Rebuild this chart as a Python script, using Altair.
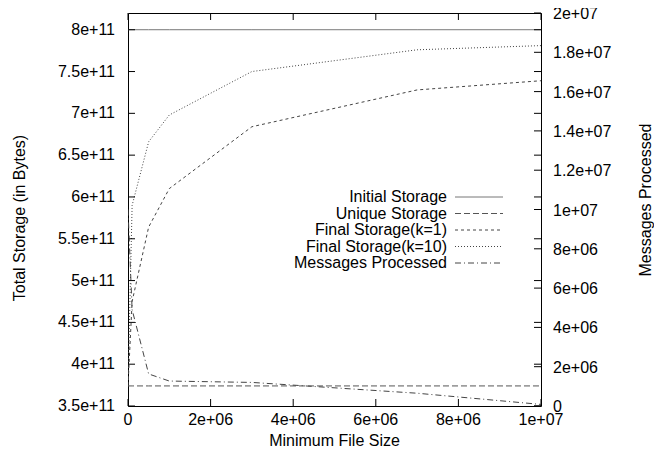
import altair as alt
import pandas as pd

SERIES = ["Initial Storage", "Unique Storage", "Final Storage(k=1)",
          "Final Storage(k=10)", "Messages Processed"]
SIZES = [0, 1e5, 5e5, 1e6, 3e6, 7e6, 1e7]
INITIAL = [8e11, 8e11, 8e11, 8e11, 8e11, 8e11, 8e11]
UNIQUE = [3.74e11, 3.74e11, 3.74e11, 3.74e11, 3.74e11, 3.74e11, 3.74e11]
K1 = [3.74e11, 4.75e11, 5.64e11, 6.10e11, 6.84e11, 7.28e11, 7.39e11]
K10 = [3.74e11, 5.90e11, 6.66e11, 6.98e11, 7.50e11, 7.76e11, 7.81e11]
MESSAGES = [1.0e7, 4.9e6, 1.63e6, 1.27e6, 1.20e6, 6.5e5, 8e4]

X_TICKS = [0, 2e6, 4e6, 6e6, 8e6, 1e7]
X_LABELS = ["0", "2e+06", "4e+06", "6e+06", "8e+06", "1e+07"]
LEFT_TICKS = [3.5e11, 4e11, 4.5e11, 5e11, 5.5e11, 6e11, 6.5e11, 7e11, 7.5e11, 8e11]
LEFT_LABELS = ["3.5e+11", "4e+11", "4.5e+11", "5e+11", "5.5e+11", "6e+11",
               "6.5e+11", "7e+11", "7.5e+11", "8e+11"]
RIGHT_TICKS = [0, 2e6, 4e6, 6e6, 8e6, 1e7, 1.2e7, 1.4e7, 1.6e7, 1.8e7, 2e7]
RIGHT_LABELS = ["0", "2e+06", "4e+06", "6e+06", "8e+06", "1e+07", "1.2e+07",
                "1.4e+07", "1.6e+07", "1.8e+07", "2e+07"]
X_TITLE = "Minimum File Size"
LEFT_TITLE = "Total Storage (in Bytes)"
RIGHT_TITLE = "Messages Processed"

DASHES = [[1, 0], [6, 3], [3, 3], [1, 2], [6, 3, 1, 3]]
COLORS = ["#777777", "#555555", "#444444", "#444444", "#444444"]

W, H = 413, 393
TL = 7
FONT = "Liberation Sans"
FS = 16

rows = []
for name, vals in zip(SERIES[:4], [INITIAL, UNIQUE, K1, K10]):
    for s, v in zip(SIZES, vals):
        rows.append({"size": s, "value": v, "series": name})
left_df = pd.DataFrame(rows)
right_df = pd.DataFrame({"size": SIZES, "value": MESSAGES, "series": SERIES[4]})

xscale = alt.Scale(domain=[0, 1e7], nice=False, zero=False)
lscale = alt.Scale(domain=[3.5e11, 8.2e11], nice=False, zero=False)
rscale = alt.Scale(domain=[0, 2e7], nice=False, zero=False)
dash = alt.StrokeDash("series:N", scale=alt.Scale(domain=SERIES, range=DASHES), legend=None)
col = alt.Color("series:N", scale=alt.Scale(domain=SERIES, range=COLORS), legend=None)


def txt(**kw):
    base = dict(font=FONT, fontSize=FS, color="black")
    base.update(kw)
    return base


left_lines = alt.Chart(left_df).mark_line(strokeWidth=1, clip=True).encode(
    x=alt.X("size:Q", scale=xscale, axis=None),
    y=alt.Y("value:Q", scale=lscale, axis=None),
    strokeDash=dash, color=col,
)

xt = pd.DataFrame({"v": X_TICKS, "label": X_LABELS})
lt = pd.DataFrame({"v": LEFT_TICKS, "label": LEFT_LABELS})
rt = pd.DataFrame({"v": RIGHT_TICKS, "label": RIGHT_LABELS})

bottom_ticks = alt.Chart(xt).mark_rule(color="black").encode(
    x=alt.X("v:Q", scale=xscale, axis=None), y=alt.value(H), y2=alt.value(H - TL))
top_ticks = alt.Chart(xt).mark_rule(color="black").encode(
    x=alt.X("v:Q", scale=xscale, axis=None), y=alt.value(0), y2=alt.value(TL))
x_labels = alt.Chart(xt).mark_text(**txt(baseline="middle", align="center")).encode(
    x=alt.X("v:Q", scale=xscale, axis=None), y=alt.value(H + 14), text="label:N")
left_ticks = alt.Chart(lt).mark_rule(color="black").encode(
    y=alt.Y("v:Q", scale=lscale, axis=None), x=alt.value(0), x2=alt.value(TL))
left_mirror = alt.Chart(lt).mark_rule(color="black").encode(
    y=alt.Y("v:Q", scale=lscale, axis=None), x=alt.value(W - TL), x2=alt.value(W))
left_labels = alt.Chart(lt).mark_text(**txt(baseline="middle", align="right")).encode(
    y=alt.Y("v:Q", scale=lscale, axis=None), x=alt.value(-13), text="label:N")

x_title = alt.Chart(pd.DataFrame({"t": [X_TITLE]})).mark_text(
    **txt(baseline="middle", align="center")).encode(
    x=alt.value(W / 2), y=alt.value(H + 35), text="t:N")
l_title = alt.Chart(pd.DataFrame({"t": [LEFT_TITLE]})).mark_text(
    **txt(baseline="middle", align="center", angle=270)).encode(
    x=alt.value(-108), y=alt.value(205), text="t:N")
r_title = alt.Chart(pd.DataFrame({"t": [RIGHT_TITLE]})).mark_text(
    **txt(baseline="middle", align="center", angle=270)).encode(
    x=alt.value(W + 105), y=alt.value(187), text="t:N")

left_group = alt.layer(left_lines, bottom_ticks, top_ticks, x_labels,
                       left_ticks, left_mirror, left_labels, x_title, l_title, r_title)

right_line = alt.Chart(right_df).mark_line(strokeWidth=1, clip=True).encode(
    x=alt.X("size:Q", scale=xscale, axis=None),
    y=alt.Y("value:Q", scale=rscale, axis=None),
    strokeDash=dash, color=col,
)
right_ticks = alt.Chart(rt).mark_rule(color="black").encode(
    y=alt.Y("v:Q", scale=rscale, axis=None), x=alt.value(W - TL), x2=alt.value(W))
right_labels = alt.Chart(rt).mark_text(**txt(baseline="middle", align="left", dy=1)).encode(
    y=alt.Y("v:Q", scale=rscale, axis=None), x=alt.value(W + 12), text="label:N")
right_group = alt.layer(right_line, right_ticks, right_labels)

leg_df = pd.DataFrame({"series": SERIES, "row": list(range(len(SERIES)))})
leg_y = alt.Y("row:Q", scale=alt.Scale(domain=[0, 4], range=[184, 250], nice=False, zero=False),
              axis=None)
leg_text = alt.Chart(leg_df).mark_text(**txt(align="right", baseline="middle")).encode(
    y=leg_y, x=alt.value(319), text="series:N")
leg_rule = alt.Chart(leg_df).mark_rule(strokeWidth=1).encode(
    y=leg_y, x=alt.value(327), x2=alt.value(375), strokeDash=dash, color=col)
legend_group = alt.layer(leg_text, leg_rule)

chart = alt.layer(left_group, right_group, legend_group).resolve_scale(
    y="independent").properties(
    width=W, height=H,
    autosize=alt.AutoSizeParams(type="none"),
    padding={"left": 120, "top": 5, "right": 113, "bottom": 43},
).configure_view(stroke="black", strokeWidth=1)

chart.save("out.html", embed_options={"renderer": "svg", "actions": False})
